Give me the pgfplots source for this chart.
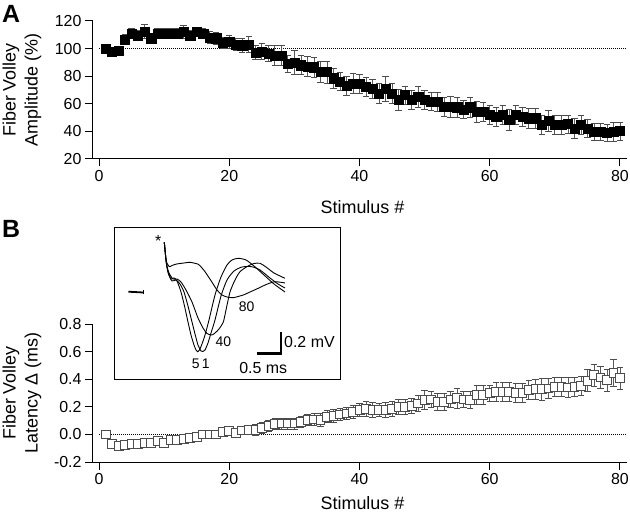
\documentclass[border=0pt]{standalone}
\usepackage{fontspec}
\setmainfont{Liberation Sans}
\usepackage{pgfplots}
\usepackage{pgfplotstable}
\pgfplotsset{compat=1.18}

\pgfplotstableread{
x y e
1 100 2
2 98 2.5
3 98.5 3
4 106.7 3.5
5 111 3.5
6 109.5 3.5
7 112.3 5
8 107.5 3.5
9 111 3.5
10 111 3.5
11 111 3.5
12 111 3.5
13 112 4.5
14 109.5 3.5
15 112 3.5
16 111 3.5
17 108 4.5
18 107.5 4.5
19 104 4
20 105 4.5
21 103 4.5
22 102.5 5
23 103 5.5
24 97 5
25 98 6
26 96.5 6
27 95 7
28 95 7
29 89 6
30 90 9
31 88 7
32 87 7
33 86.5 7
34 83 7.5
35 83 8
36 78.5 7
37 76 6.5
38 72.9 7
39 74.8 7.5
40 74.3 7
41 72.4 7
42 71 7
43 67.6 7
44 71 9
45 67.6 7
46 62.8 7.5
47 66.4 6.5
48 62.8 7
49 65.2 7.5
50 62.8 7
51 61.6 6.5
52 61.6 7
53 57.9 7
54 57.9 7.5
55 57.5 7
56 56 6.5
57 57.5 7
58 54.3 7.5
59 54.3 7
60 51.9 7
61 50.7 7
62 51.9 7
63 48.3 7.5
64 51.9 7
65 50.7 7
66 49.5 7
67 49.5 7
68 44.6 7
69 47.8 7.5
70 44.6 7
71 44.6 7
72 45.4 6.5
73 42.2 7
74 44.6 7
75 42.2 6.5
76 39.8 6
77 39.8 6
78 39.1 6
79 39.8 7
80 40.3 6.5
}\tableA

\pgfplotstableread{
x y e
1 0.000 0.012
2 -0.070 0.025
3 -0.084 0.025
4 -0.077 0.025
5 -0.070 0.025
6 -0.070 0.025
7 -0.060 0.025
8 -0.060 0.025
9 -0.048 0.025
10 -0.060 0.025
11 -0.040 0.028
12 -0.040 0.028
13 -0.035 0.028
14 -0.023 0.028
15 -0.016 0.028
16 0.000 0.028
17 0.000 0.028
18 0.000 0.028
19 0.020 0.028
20 0.025 0.028
21 0.010 0.03
22 0.030 0.03
23 0.035 0.03
24 0.035 0.04
25 0.045 0.04
26 0.060 0.04
27 0.075 0.04
28 0.080 0.04
29 0.080 0.04
30 0.080 0.04
31 0.090 0.04
32 0.105 0.04
33 0.110 0.045
34 0.105 0.045
35 0.130 0.045
36 0.135 0.045
37 0.146 0.045
38 0.153 0.045
39 0.165 0.045
40 0.178 0.045
41 0.183 0.055
42 0.178 0.055
43 0.178 0.045
44 0.178 0.055
45 0.183 0.055
46 0.202 0.055
47 0.202 0.055
48 0.207 0.055
49 0.226 0.06
50 0.250 0.07
51 0.255 0.06
52 0.238 0.06
53 0.238 0.06
54 0.255 0.06
55 0.263 0.07
56 0.255 0.06
57 0.250 0.06
58 0.287 0.07
59 0.287 0.07
60 0.299 0.06
61 0.311 0.07
62 0.311 0.07
63 0.311 0.07
64 0.304 0.07
65 0.304 0.07
66 0.323 0.07
67 0.328 0.07
68 0.328 0.08
69 0.335 0.07
70 0.347 0.07
71 0.347 0.07
72 0.342 0.07
73 0.347 0.07
74 0.352 0.07
75 0.390 0.08
76 0.432 0.08
77 0.415 0.08
78 0.395 0.08
79 0.448 0.1
80 0.408 0.08
}\tableB

\pgfplotsset{
  mainax/.style={
    scale only axis, width=534bp, xmin=-1, xmax=81,
    axis x line*=bottom, axis y line*=left,
    axis line style={line width=1bp, black},
    tick align=outside, major tick length=7.5bp,
    tick style={line width=1bp, black},
    xtick={0,20,40,60,80},
    tick label style={font=\fontsize{16}{19}\selectfont},
    /pgf/number format/assume math mode=true,
    clip=false,
  },
  ebars/.style={
    error bars/.cd, y dir=both, y explicit,
    error bar style={line width=0.75bp, black!65},
    error mark options={rotate=90, line width=0.75bp, black!70, mark size=3.2bp},
  },
}

\begin{document}
\begin{tikzpicture}

% Panel A
\begin{axis}[mainax, at={(92.5bp,356bp)}, anchor=south west, height=138bp,
  ymin=20, ymax=120, ytick={20,40,...,120}]
\addplot[line width=0.6bp, dash pattern=on 1bp off 1bp] coordinates {(0,100) (81,100)};
\addplot[only marks, mark=square*, mark size=4.6bp, mark options={fill=black, draw=black},
  ebars] table[x=x, y=y, y error=e] {\tableA};
\end{axis}

% Panel B
\begin{axis}[mainax, at={(92.5bp,53bp)}, anchor=south west, height=137.7bp,
  ymin=-0.2, ymax=0.8, ytick={-0.2,0,0.2,0.4,0.6,0.8},
  yticklabel style={/pgf/number format/.cd, fixed, fixed zerofill, precision=1}]
\addplot[line width=0.6bp, dash pattern=on 1bp off 1bp] coordinates {(0,0) (81,0)};
\addplot[only marks, mark=square*, mark size=4.4bp, mark options={fill=white, draw=black!70, line width=0.8bp},
  ebars] table[x=x, y=y, y error=e] {\tableB};
\end{axis}

% Inset
\begin{axis}[at={(114bp,135bp)}, anchor=south west, scale only axis, width=226bp, height=152bp,
  xmin=0, xmax=226, ymin=0, ymax=152, xtick=\empty, ytick=\empty,
  axis line style={line width=1bp, black}, clip=false, axis background/.style={fill=white}]
% trace 51
\addplot[line width=0.9bp, smooth, tension=0.4] coordinates {(50.3,137.7) (51.5,125) (52.5,116) (54,108) (57,101) (60,102) (63,99) (67,88) (70.5,74) (74,58) (77,45) (80,35) (82,30) (83.5,28.3) (85.5,30) (88,36) (91,45) (95,60) (101,85) (107,103) (113,115) (118,120) (124.3,121.7) (132,120) (140,114) (150,105) (160,96) (171,88)};
% trace 1
\addplot[line width=0.9bp, smooth, tension=0.4] coordinates {(50.3,137.7) (51.5,125) (52.5,116) (54.5,106) (58,99) (62,100) (66,96) (70,88) (74,74) (78,58) (81,46) (84,35) (87,29) (89,28.5) (91,30) (94,37) (97,47) (101,60) (107,84) (113,100) (120,109) (128,113) (137.7,113.3) (146,110) (156,102) (164,96) (171,92)};
% trace 40
\addplot[line width=0.9bp, smooth, tension=0.4] coordinates {(50.3,137.7) (51.5,125) (52.5,116) (55,107) (59,101) (63,101) (67,98) (72,90) (78,78) (84,62) (89,52) (93,46.5) (97.7,45) (101,47) (105,51) (109.3,58) (112,70) (116,88) (121,100) (126,108.3) (134,114) (140,116.5) (146,116.7) (152,113) (160,107) (171,101.7)};
% trace 80
\addplot[line width=0.9bp, smooth, tension=0.4] coordinates {(50.3,137.7) (51.5,125) (52.5,118) (55.3,113.3) (58,114.5) (62.7,116) (70,117) (76,117.7) (84.3,115.7) (88,112) (91,108.3) (97.7,98.3) (103,90) (108,85) (113,83) (119.3,82.3) (124,83.5) (129.3,85) (136,88) (142.7,91) (152.7,95.7) (161,98.3) (171,97)};
% baseline segment before stimulus
\addplot[line width=1.8bp] coordinates {(14.3,88.3) (29.3,87.5)};
\addplot[line width=1bp] coordinates {(29.3,85.5) (29.3,90)};
% scale bar
\addplot[line width=2.6bp] coordinates {(142.7,26.7) (167,26.7) (167,48.3)};
\node[font=\fontsize{16}{19}\selectfont] at (axis cs:44.3,139) {*};
\node[font=\fontsize{14}{17}\selectfont] at (axis cs:132.7,73.3) {80};
\node[font=\fontsize{14}{17}\selectfont] at (axis cs:109.3,38.3) {40};
\node[font=\fontsize{14}{17}\selectfont] at (axis cs:86.7,16.7) {5\,1};
\node[font=\fontsize{16}{19}\selectfont, anchor=west, inner sep=0pt] at (axis cs:170,37.5) {0.2 mV};
\node[font=\fontsize{16}{19}\selectfont] at (axis cs:149.3,11.7) {0.5 ms};
\end{axis}

% Labels
\node[font=\fontsize{18}{21}\selectfont, rotate=90, anchor=base] at (15.5bp,425bp) {Fiber Volley};
\node[font=\fontsize{18}{21}\selectfont, rotate=90, anchor=base] at (37.5bp,425bp) {Amplitude (\%)};
\node[font=\fontsize{18}{21}\selectfont, rotate=90, anchor=base] at (15.5bp,122bp) {Fiber Volley};
\node[font=\fontsize{18}{21}\selectfont, rotate=90, anchor=base] at (37.5bp,122bp) {Latency Δ (ms)};
\node[font=\fontsize{18}{21}\selectfont, anchor=base] at (362.5bp,301.7bp) {Stimulus \#};
\node[font=\fontsize{18}{21}\selectfont, anchor=base] at (362.5bp,5.5bp) {Stimulus \#};
\node[font=\bfseries\fontsize{25}{28}\selectfont, anchor=base west, inner sep=0pt] at (2bp,492bp) {A};
\node[font=\bfseries\fontsize{25}{28}\selectfont, anchor=base west, inner sep=0pt] at (2bp,277bp) {B};

\pgfresetboundingbox
\useasboundingbox (0,0) rectangle (630bp,515bp);
\end{tikzpicture}
\end{document}
